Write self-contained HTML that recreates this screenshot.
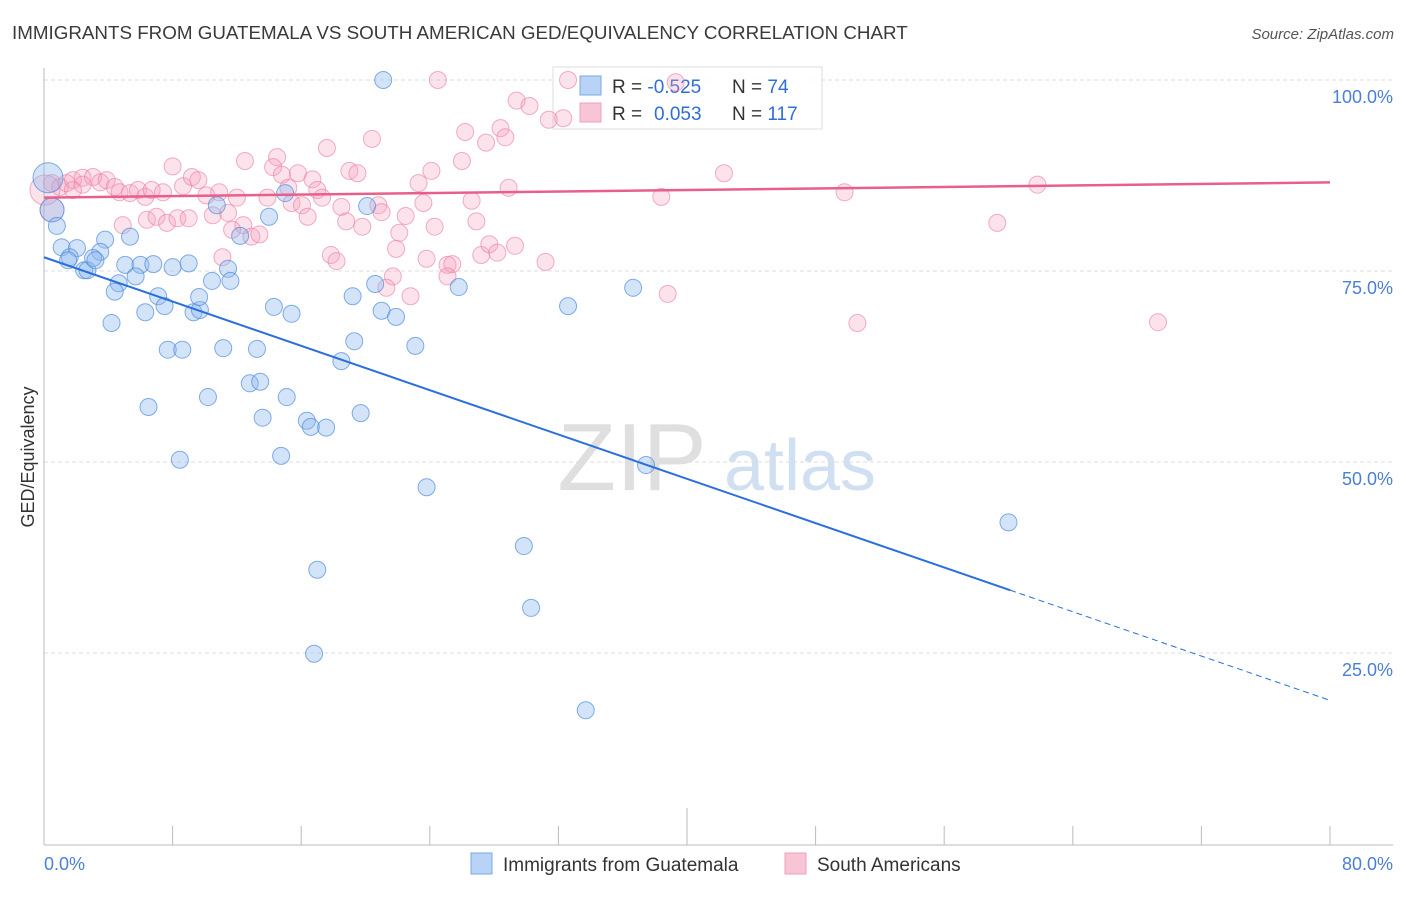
<!DOCTYPE html>
<html><head><meta charset="utf-8"><style>
body{margin:0;background:#fff;font-family:"Liberation Sans",sans-serif;}
svg text{font-family:"Liberation Sans",sans-serif;}
</style></head><body>
<svg id="chart" width="1406" height="892" viewBox="0 0 1406 892" xmlns="http://www.w3.org/2000/svg">
<text x="12" y="39" font-size="18.8" fill="#3a3a3a">IMMIGRANTS FROM GUATEMALA VS SOUTH AMERICAN GED/EQUIVALENCY CORRELATION CHART</text>
<text x="1394" y="39" font-size="15" fill="#555" text-anchor="end" font-style="italic">Source: ZipAtlas.com</text>
<g>
<text x="632" y="490" font-size="96" fill="#d8d8d8" font-family="Liberation Serif" text-anchor="middle" opacity="0.8">ZIP</text>
<text x="800" y="490" font-size="72" fill="#c5d8ef" text-anchor="middle" opacity="0.8">atlas</text>
</g>
<g id="grid"></g>
<g id="axes"></g>
<g>
<rect x="553" y="67" width="269" height="62" fill="#fff" fill-opacity="0.85" stroke="#ddd"/>
<rect x="580" y="76" width="21" height="19" fill="#b8d3f5" stroke="#7aa8e6"/>
<rect x="580" y="103" width="21" height="19" fill="#f8c5d5" stroke="#f0a0bb"/>
<text x="612" y="93" font-size="19" fill="#333">R = <tspan fill="#2e6fd6">-0.525</tspan><tspan x="732">N = </tspan><tspan fill="#2e6fd6">74</tspan></text>
<text x="612" y="120" font-size="19" fill="#333">R = <tspan fill="#2e6fd6" x="654">0.053</tspan><tspan x="732">N = </tspan><tspan fill="#2e6fd6">117</tspan></text>
</g>
<g id="marks"></g>
<g id="lines"></g>
<text transform="translate(34,457) rotate(-90)" font-size="18" fill="#333" text-anchor="middle">GED/Equivalency</text>
<g>
<rect x="471" y="853" width="21" height="21" fill="#b8d3f5" stroke="#7aa8e6"/>
<text x="503" y="871" font-size="19" fill="#333">Immigrants from Guatemala</text>
<rect x="785" y="853" width="21" height="21" fill="#f8c5d5" stroke="#f0a0bb"/>
<text x="817" y="871" font-size="19" fill="#333">South Americans</text>
</g>
</svg>
<script>
const blueX=[21.1,0.25,0.5,0.8,1.1,2.05,1.6,1.5,2.5,2.7,3.8,3.5,3.05,3.2,5.35,5.05,6.0,6.8,8.0,9.0,5.7,4.65,4.4,7.1,7.5,6.3,4.2,9.3,9.7,9.65,10.45,11.45,11.6,12.2,10.75,14.0,15.0,20.1,14.3,15.4,19.2,21.0,21.9,20.6,25.8,32.6,36.65,7.7,8.6,11.15,13.25,18.5,19.3,23.1,12.8,13.45,10.2,15.1,6.5,13.6,16.35,16.6,17.55,19.7,8.45,14.75,23.8,37.45,60.0,29.85,17.0,30.3,16.8,33.7];
const blueY=[100.0,87.2,83.0,80.9,78.1,78.0,76.8,76.4,75.1,75.1,79.1,77.5,76.7,76.4,79.5,75.8,75.8,75.9,75.5,76.0,74.3,73.4,72.3,71.7,70.4,69.6,68.2,69.6,69.9,71.6,73.7,75.3,73.7,79.6,83.6,82.1,85.2,83.5,70.3,69.4,71.7,69.8,69.0,73.3,72.9,70.4,72.8,64.7,64.7,64.9,64.8,63.2,65.8,65.2,60.3,60.5,58.5,58.5,57.2,55.8,55.4,54.6,54.5,56.4,50.3,50.8,46.7,49.6,42.1,39.0,35.9,30.9,24.9,17.5];
const blueWeight=[1,3,2,1,1,1,1,1,1,1,1,1,1,1,1,1,1,1,1,1,1,1,1,1,1,1,1,1,1,1,1,1,1,1,1,1,1,1,1,1,1,1,1,1,1,1,1,1,1,1,1,1,1,1,1,1,1,1,1,1,1,1,1,1,1,1,1,1,1,1,1,1,1,1];
const pinkX=[24.5,32.6,39.3,29.4,30.2,31.4,32.3,28.4,28.7,26.2,27.5,20.4,17.6,26.0,12.5,14.5,8.0,14.25,14.8,15.8,16.7,19.0,19.5,24.1,23.3,8.65,9.2,9.6,0.5,1.0,1.4,1.8,2.4,3.05,3.5,3.9,4.4,4.7,5.35,5.85,6.3,6.7,7.4,2.4,1.8,0.5,10.1,10.9,12.0,13.9,15.2,15.4,16.05,17.0,17.3,18.5,20.8,21.0,23.6,26.6,28.9,38.4,42.3,49.8,61.8,59.3,4.9,6.4,7.0,7.65,8.3,9.0,10.5,11.45,12.4,11.7,12.9,13.4,16.4,18.8,19.8,22.5,22.1,24.3,26.9,21.9,11.1,17.85,18.2,23.8,25.1,25.4,27.2,27.7,28.2,29.3,31.2,21.7,25.1,21.3,22.8,38.8,50.6,69.3,0.06];
const pinkY=[100.0,100.0,99.7,97.3,96.6,94.8,95.0,93.7,92.5,93.2,91.8,92.3,91.1,89.4,89.4,89.9,88.7,88.6,87.6,87.8,87.0,88.1,87.8,88.1,86.5,86.1,87.3,86.9,86.5,86.0,86.5,86.9,87.2,87.3,86.6,86.9,86.0,85.3,85.2,85.6,84.7,85.6,85.3,86.3,85.6,83.0,84.9,85.3,84.6,84.6,85.9,83.9,83.6,85.6,84.6,83.4,83.6,82.7,83.9,84.2,85.9,84.7,87.8,85.3,86.3,81.3,81.0,81.7,82.1,81.3,81.9,81.9,82.3,82.6,81.0,80.4,79.5,79.8,82.1,81.5,80.8,82.2,80.0,80.8,81.5,77.9,76.8,77.1,76.3,76.6,75.8,75.9,77.1,78.5,77.4,78.3,76.2,74.3,74.3,72.8,71.7,72.0,68.2,68.3,85.6];
const pinkWeight=pinkX.map((v,i)=>i===45?2:(i===pinkX.length-1?3:1));
const yTicks=[25,50,75,100];
const yTickLabels=["25.0%","50.0%","75.0%","100.0%"];
const xTicks=[0,8,16,24,32,40,48,56,64,72,80];
const xEndLabels=["0.0%","80.0%"];
const blueFit=[76.8,-0.725];
const pinkFit=[84.6,0.025];

const NS="http://www.w3.org/2000/svg";
const X0=44,X1=1330,Y0=844,Y100=80;
const sx=v=>X0+(X1-X0)*v/80;
const sy=v=>Y0-(Y0-Y100)*v/100;
function mk(tag,attrs,parent){const e=document.createElementNS(NS,tag);for(const k in attrs)e.setAttribute(k,attrs[k]);document.getElementById(parent).appendChild(e);return e;}

yTicks.forEach((t,i)=>{
  const g=mk('line',{x1:X0,x2:1393,y1:sy(t),y2:sy(t),stroke:'#ddd','stroke-dasharray':'4,3'},'grid');
  
  
  const l=mk('text',{x:1393,y:sy(t)+23,'font-size':18,fill:'#4a7fd6','text-anchor':'end'},'axes');
  l.textContent=yTickLabels[i];
  
  
});
const ax=mk('line',{x1:X0,x2:X0,y1:68,y2:Y0+1,stroke:'#bbb'},'axes');


const bx=mk('line',{x1:X0,x2:1393,y1:Y0+1,y2:Y0+1,stroke:'#bbb'},'axes');


xTicks.forEach((t,i)=>{
  const tk=mk('line',{x1:sx(t),x2:sx(t),y1:(i===5?808:826),y2:Y0+1,stroke:'#bbb'},'axes');
  
  
});
const xl0=mk('text',{x:X0,y:870,'font-size':18,fill:'#4a7fd6'},'axes');
xl0.textContent=xEndLabels[0];


const xl1=mk('text',{x:1393,y:870,'font-size':18,fill:'#4a7fd6','text-anchor':'end'},'axes');
xl1.textContent=xEndLabels[1];



pinkX.forEach((v,i)=>{
  const r=pinkWeight[i]===3?15:(pinkWeight[i]===2?12:8.5);
  const c=mk('circle',{cx:sx(v),cy:sy(pinkY[i]),r:r,fill:'rgba(245,160,190,0.3)',stroke:'rgba(235,130,165,0.65)','stroke-width':1},'marks');
  
  
});
blueX.forEach((v,i)=>{
  const r=blueWeight[i]===3?15:(blueWeight[i]===2?12:8.5);
  const c=mk('circle',{cx:sx(v),cy:sy(blueY[i]),r:r,fill:'rgba(140,185,240,0.38)',stroke:'rgba(80,140,220,0.7)','stroke-width':1},'marks');
  
  
});
const fb=x=>blueFit[0]+blueFit[1]*x;
const b1=mk('line',{x1:sx(0),y1:sy(fb(0)),x2:sx(60.1),y2:sy(fb(60.1)),stroke:'#2a6fdb','stroke-width':2},'lines');


const b2=mk('line',{x1:sx(60.1),y1:sy(fb(60.1)),x2:sx(80),y2:sy(fb(80)),stroke:'#2a6fdb','stroke-width':1,'stroke-dasharray':'6,4'},'lines');


const fp=x=>pinkFit[0]+pinkFit[1]*x;
const p1=mk('line',{x1:sx(0),y1:sy(fp(0)),x2:sx(80),y2:sy(fp(80)),stroke:'#e8608a','stroke-width':2.5},'lines');


</script>
</body></html>
